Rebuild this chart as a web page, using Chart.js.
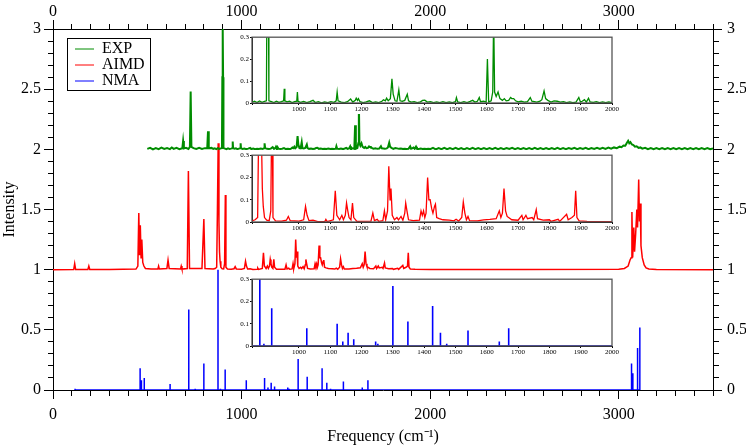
<!DOCTYPE html>
<html>
<head>
<meta charset="utf-8">
<script src="https://cdn.jsdelivr.net/npm/chart.js@4.4.1/dist/chart.umd.min.js"></script>
<style>
  body { margin: 0; background: #fff; }
  #wrap { position: relative; width: 746px; height: 446px; }
  canvas { position: absolute; background: #fff; }
</style>
</head>
<body>
<div id="wrap">
  <canvas id="main" width="746" height="446" style="left:0;top:0"></canvas>
  <canvas id="ins-exp" width="389" height="82" style="left:230px;top:32px"></canvas>
  <canvas id="ins-aimd" width="389" height="84" style="left:230px;top:150px"></canvas>
  <canvas id="ins-nma" width="389" height="85" style="left:230px;top:274px"></canvas>
</div>
<script>
const serif = '"Liberation Serif", "Times New Roman", serif';

const seriesNames = ['EXP', 'AIMD', 'NMA'];
const seriesColors = ['rgb(0,140,0)', 'rgb(255,0,0)', 'rgb(0,0,255)'];
const seriesOffsets = [2, 1, 0];

const mainXLabels = [0, 1000, 2000, 3000];
const mainYLabels = [0, 0.5, 1, 1.5, 2, 2.5, 3];
const insetXLabels = [900, 1000, 1100, 1200, 1300, 1400, 1500, 1600, 1700, 1800, 1900, 2000];
const insetYLabels = [0, 0.1, 0.2, 0.3];

// [frequency, intensity above the series baseline]
const exp = [
  [500,0.004],[515,0.012],[530,0.0],[545,0.01],[560,0.002],[575,0.014],[590,0.003],[605,0.01],[620,0.002],
  [630,0.015],[640,0.004],[655,0.012],[670,0.002],[686,0.01],[690,0.07],[694,0.008],[705,0.012],[718,0.003],
  [726,0.02],[730,0.48],[734,0.02],[745,0.01],[760,0.003],[775,0.012],[790,0.004],[805,0.01],[818,0.01],
  [822,0.15],[826,0.01],[840,0.012],[850,0.003],[858,0.008],[866,0.002],[874,0.009],[882,0.003],[890,0.008],
  [896,0.01],[898,0.6],[900,1.0],[902,0.6],[904,0.01],[912,0.006],[920,0.002],[928,0.008],[936,0.003],
  [944,0.006],[951,0.01],[953,0.065],[955,0.01],[962,0.005],[970,0.008],[978,0.002],[986,0.006],[993,0.008],
  [995,0.05],[997,0.008],[1005,0.003],[1015,0.007],[1025,0.002],[1035,0.006],[1045,0.012],[1052,0.002],
  [1062,0.006],[1072,0.001],[1082,0.005],[1092,0.002],[1102,0.006],[1112,0.003],[1119,0.01],[1122,0.05],
  [1125,0.01],[1135,0.004],[1145,0.002],[1155,0.006],[1165,0.018],[1172,0.004],[1180,0.012],[1183,0.022],
  [1187,0.012],[1190,0.02],[1195,0.006],[1205,0.002],[1215,0.005],[1225,0.01],[1235,0.002],[1245,0.005],
  [1255,0.002],[1265,0.008],[1270,0.015],[1276,0.01],[1280,0.022],[1285,0.01],[1292,0.02],[1297,0.11],
  [1301,0.04],[1307,0.01],[1313,0.008],[1319,0.06],[1323,0.01],[1330,0.008],[1338,0.012],[1346,0.04],
  [1350,0.01],[1358,0.004],[1368,0.006],[1378,0.002],[1388,0.005],[1395,0.012],[1402,0.013],[1410,0.004],
  [1420,0.006],[1430,0.002],[1440,0.005],[1450,0.002],[1460,0.006],[1470,0.002],[1480,0.005],[1490,0.002],
  [1500,0.006],[1503,0.025],[1507,0.005],[1517,0.002],[1527,0.006],[1537,0.002],[1547,0.007],[1555,0.012],
  [1562,0.004],[1570,0.008],[1576,0.025],[1580,0.006],[1590,0.008],[1598,0.004],[1602,0.2],[1606,0.005],
  [1614,0.01],[1619,0.05],[1622,0.4],[1625,0.05],[1630,0.03],[1636,0.05],[1642,0.02],[1650,0.012],
  [1656,0.02],[1662,0.01],[1670,0.012],[1676,0.025],[1680,0.02],[1686,0.02],[1692,0.01],[1700,0.005],
  [1710,0.008],[1720,0.004],[1730,0.006],[1739,0.025],[1744,0.008],[1752,0.006],[1760,0.004],[1770,0.008],
  [1776,0.015],[1783,0.055],[1788,0.02],[1795,0.012],[1805,0.004],[1815,0.01],[1825,0.008],[1835,0.004],
  [1845,0.006],[1855,0.002],[1865,0.005],[1875,0.002],[1885,0.004],[1894,0.025],[1899,0.005],[1905,0.008],
  [1912,0.015],[1918,0.004],[1925,0.022],[1930,0.005],[1940,0.003],[1950,0.006],[1960,0.002],[1970,0.005],
  [1980,0.002],[1990,0.005],[2000,0.002],[2015,0.012],[2030,0.0],[2045,0.011],[2060,0.002],[2075,0.012],
  [2090,0.001],[2105,0.01],[2120,0.002],[2135,0.012],[2150,0.001],[2165,0.011],[2180,0.0],[2195,0.01],
  [2210,0.002],[2225,0.012],[2240,0.001],[2255,0.01],[2270,0.002],[2285,0.011],[2300,0.001],[2315,0.01],
  [2330,0.002],[2345,0.012],[2360,0.002],[2375,0.01],[2390,0.002],[2405,0.011],[2420,0.003],[2435,0.012],
  [2450,0.002],[2465,0.01],[2480,0.001],[2495,0.011],[2510,0.002],[2525,0.01],[2540,0.002],[2555,0.012],
  [2570,0.001],[2585,0.01],[2600,0.002],[2615,0.011],[2630,0.001],[2645,0.01],[2660,0.002],[2675,0.012],
  [2690,0.002],[2705,0.01],[2720,0.002],[2735,0.011],[2750,0.003],[2765,0.012],[2780,0.002],[2795,0.01],
  [2810,0.003],[2825,0.012],[2840,0.002],[2855,0.011],[2870,0.003],[2885,0.012],[2900,0.003],[2915,0.013],
  [2930,0.004],[2945,0.014],[2960,0.005],[2975,0.016],[2990,0.01],[3005,0.022],[3015,0.018],[3025,0.032],
  [3035,0.03],[3042,0.05],[3050,0.07],[3056,0.05],[3062,0.06],[3070,0.04],[3078,0.035],[3086,0.022],
  [3095,0.025],[3105,0.012],[3115,0.016],[3125,0.006],[3140,0.013],[3155,0.002],[3170,0.011],[3185,0.001],
  [3200,0.01],[3215,0.002],[3230,0.011],[3245,0.001],[3260,0.01],[3275,0.002],[3290,0.011],[3305,0.001],
  [3320,0.01],[3335,0.002],[3350,0.011],[3365,0.001],[3380,0.01],[3395,0.002],[3410,0.011],[3425,0.001],
  [3440,0.01],[3455,0.002],[3470,0.011],[3485,0.001],[3500,0.008]
];

const aimd = [
  [0,0],[110,0.002],[115,0.05],[120,0.002],[185,0.002],[190,0.03],[195,0.002],[300,0.002],[440,0.005],
  [450,0.03],[455,0.47],[459,0.12],[463,0.37],[467,0.1],[471,0.25],[476,0.06],[482,0.03],[490,0.01],
  [520,0.005],[556,0.005],[560,0.03],[564,0.005],[604,0.01],[610,0.08],[616,0.01],[676,0.005],[680,0.03],
  [684,0.005],[712,0.01],[718,0.82],[724,0.01],[790,0.01],[800,0.42],[806,0.01],[850,0.005],[860,0.01],
  [868,0.02],[872,0.5],[876,1.05],[880,0.4],[883,0.15],[886,0.07],[890,0.02],[897,0.008],[905,0.006],
  [910,0.05],[914,0.62],[917,0.02],[925,0.005],[945,0.004],[960,0.008],[966,0.025],[972,0.006],[1000,0.004],
  [1015,0.01],[1021,0.07],[1026,0.03],[1032,0.006],[1045,0.008],[1060,0.002],[1083,0.003],[1086,0.012],
  [1090,0.002],[1110,0.01],[1116,0.14],[1121,0.03],[1130,0.01],[1137,0.03],[1142,0.01],[1148,0.03],
  [1152,0.085],[1156,0.05],[1160,0.02],[1166,0.01],[1171,0.085],[1175,0.02],[1185,0.003],[1230,0.004],
  [1236,0.04],[1241,0.006],[1250,0.012],[1255,0.003],[1268,0.006],[1273,0.05],[1277,0.01],[1283,0.05],
  [1287,0.25],[1291,0.1],[1294,0.15],[1298,0.03],[1305,0.01],[1313,0.02],[1318,0.01],[1326,0.025],
  [1332,0.008],[1338,0.04],[1341,0.085],[1345,0.05],[1350,0.01],[1365,0.006],[1385,0.008],[1390,0.05],
  [1394,0.03],[1398,0.05],[1402,0.02],[1406,0.04],[1411,0.2],[1415,0.1],[1419,0.1],[1424,0.06],[1428,0.04],
  [1433,0.07],[1436,0.08],[1440,0.02],[1448,0.015],[1460,0.01],[1480,0.008],[1495,0.005],[1502,0.012],
  [1510,0.004],[1520,0.02],[1525,0.09],[1530,0.04],[1535,0.01],[1540,0.025],[1545,0.006],[1570,0.005],
  [1590,0.01],[1610,0.012],[1630,0.015],[1640,0.05],[1645,0.02],[1650,0.04],[1655,0.15],[1660,0.05],
  [1665,0.025],[1680,0.01],[1700,0.008],[1712,0.03],[1716,0.01],[1725,0.03],[1730,0.015],[1745,0.02],
  [1750,0.01],[1758,0.055],[1762,0.015],[1780,0.008],[1800,0.01],[1805,0.003],[1828,0.012],[1833,0.003],
  [1855,0.035],[1860,0.01],[1872,0.02],[1880,0.03],[1884,0.14],[1888,0.02],[1895,0.005],[1920,0.003],
  [2000,0.002],[2500,0.002],[3000,0.004],[3030,0.01],[3050,0.03],[3060,0.08],[3066,0.1],[3070,0.48],
  [3074,0.1],[3080,0.35],[3084,0.15],[3090,0.3],[3096,0.5],[3100,0.35],[3106,0.75],[3110,0.4],[3114,0.55],
  [3118,0.2],[3125,0.1],[3135,0.04],[3145,0.015],[3160,0.005],[3200,0.002],[3500,0]
];

// normal mode analysis: stick positions and heights
const nma = [
  [117,0.01],[191,0.005],[462,0.18],[469,0.08],[484,0.1],[568,0.005],[621,0.05],[720,0.67],[754,0.01],
  [800,0.22],[875,1.0],[888,0.01],[913,0.17],[1025,0.08],[1122,0.1],[1140,0.02],[1157,0.06],[1175,0.03],
  [1245,0.02],[1252,0.01],[1300,0.27],[1348,0.11],[1427,0.18],[1452,0.06],[1472,0.01],[1540,0.07],
  [1640,0.02],[1670,0.08],[3068,0.22],[3075,0.14],[3100,0.35],[3112,0.52]
];

const spectra = [exp, aimd, nma];

function isLabelled(list, v) { return list.some(t => Math.abs(t - v) < 1e-6); }

function toLine(arr, off) { return arr.map(([x, y]) => ({x, y: y + off})); }
function toSticks(arr, off) {
  return arr.flatMap(([x, y]) => [{x, y: off}, {x, y: y + off}, {x, y: off}]);
}
function seriesData(i, off) {
  return i === 2 ? toSticks(spectra[i], off) : toLine(spectra[i], off);
}

function mainAxis(position, min, max, step, labels, size, pad) {
  const horizontal = position === 'top' || position === 'bottom';
  const farStart = position === 'top' || position === 'left';
  return {
    type: 'linear', position, min, max,
    afterFit: s => { if (horizontal) s.height = size; else s.width = size; },
    border: { display: true, color: '#000', width: 1 },
    grid: {
      drawOnChartArea: false, tickLength: 9, tickColor: '#000', tickWidth: 1,
      tickBorderDash: c => isLabelled(labels, c.tick.value) ? [] : [5, 100],
      tickBorderDashOffset: c => (farStart && !isLabelled(labels, c.tick.value)) ? -4 : 0
    },
    ticks: {
      stepSize: step, autoSkip: false, maxRotation: 0, padding: pad, color: '#000',
      font: { family: serif, size: 16 },
      callback: v => isLabelled(labels, v) ? String(Math.round(v * 10) / 10) : ''
    }
  };
}

const xAxis = mainAxis('bottom', 0, 3500, 100, mainXLabels, 56, 6);
xAxis.title = { display: true, text: 'Frequency (cm\u207B\u00B9)', color: '#000',
                font: { family: serif, size: 16 }, padding: { top: 0, bottom: 0 } };
const yAxis = mainAxis('left', 0, 3, 0.1, mainYLabels, 53, 3);
yAxis.title = { display: true, text: 'Intensity', color: '#000',
                font: { family: serif, size: 16 }, padding: { top: 0, bottom: 0 } };

// moves the legend into the upper left corner and frames it
const legendBox = {
  id: 'legendBox',
  afterLayout(chart) {
    chart.legend.left = 75;
    chart.legend.top = 41;
  },
  afterDraw(chart) {
    const c = chart.ctx;
    c.save();
    c.strokeStyle = '#000';
    c.lineWidth = 1;
    c.strokeRect(67.5, 38.5, 83, 52);
    c.restore();
  }
};

new Chart(document.getElementById('main'), {
  type: 'line',
  data: {
    datasets: seriesNames.map((name, i) => ({
      label: name,
      data: seriesData(i, seriesOffsets[i]),
      borderColor: seriesColors[i],
      backgroundColor: seriesColors[i],
      borderWidth: i === 0 ? 2 : 1.5,
      pointRadius: 0,
      tension: 0
    }))
  },
  options: {
    responsive: false, animation: false, devicePixelRatio: 1,
    layout: { padding: 0 },
    plugins: {
      legend: {
        position: 'chartArea', align: 'start',
        labels: {
          usePointStyle: true, pointStyle: 'line', pointStyleWidth: 19, padding: 0,
          color: '#000', font: { family: serif, size: 16 },
          generateLabels: chart => Chart.defaults.plugins.legend.labels.generateLabels(chart)
            .map(item => Object.assign(item, { lineWidth: 1 }))
        }
      },
      tooltip: { enabled: false }
    },
    scales: {
      x: xAxis,
      xTop: mainAxis('top', 0, 3500, 100, mainXLabels, 29, -1),
      y: yAxis,
      yRight: mainAxis('right', 0, 3, 0.1, mainYLabels, 33, 5)
    }
  },
  plugins: [legendBox]
});

const insetFrame = {
  id: 'insetFrame',
  afterDraw(chart) {
    const a = chart.chartArea, c = chart.ctx;
    c.save();
    c.strokeStyle = '#555';
    c.lineWidth = 1.3;
    c.strokeRect(a.left, a.top, a.right - a.left, a.bottom - a.top);
    c.restore();
  }
};

function makeInset(id, i, xHeight) {
  new Chart(document.getElementById(id), {
    type: 'line',
    data: {
      datasets: [{
        label: seriesNames[i],
        data: seriesData(i, 0),
        borderColor: seriesColors[i],
        borderWidth: i === 2 ? 1.6 : 1.3,
        pointRadius: 0,
        tension: 0
      }]
    },
    options: {
      responsive: false, animation: false, devicePixelRatio: 1,
      layout: { padding: { top: 4, right: 0, left: 0, bottom: 0 } },
      plugins: { legend: { display: false }, tooltip: { enabled: false } },
      scales: {
        x: {
          type: 'linear', min: 850, max: 2000,
          afterFit: s => { s.height = xHeight; },
          border: { display: true, color: '#000' },
          grid: { drawOnChartArea: false, tickLength: 2, tickColor: '#000' },
          ticks: { stepSize: 100, autoSkip: false, maxRotation: 0, padding: 0, color: '#000',
                   font: { family: serif, size: 7 },
                   callback: v => isLabelled(insetXLabels, v) ? String(v) : '' }
        },
        y: {
          type: 'linear', min: 0, max: 0.3,
          afterFit: s => { s.width = 22; },
          border: { display: true, color: '#000' },
          grid: { drawOnChartArea: false, tickLength: 2, tickColor: '#000' },
          ticks: { stepSize: 0.1, autoSkip: false, padding: 1, color: '#000',
                   font: { family: serif, size: 7 },
                   callback: v => isLabelled(insetYLabels, v) ? (v === 0 ? '0' : v.toFixed(1)) : '' }
        }
      }
    },
    plugins: [insetFrame]
  });
}

makeInset('ins-exp', 0, 11);
makeInset('ins-aimd', 1, 12);
makeInset('ins-nma', 2, 13);
</script>
</body>
</html>
